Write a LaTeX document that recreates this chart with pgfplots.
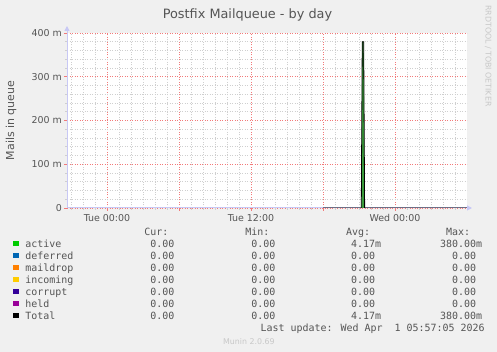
\documentclass[border=0pt]{standalone}
\usepackage{pgfplots}
\pgfplotsset{compat=1.18}
\usepackage{fontspec}
\setmainfont{DejaVu Sans}
\newfontfamily\mono{DejaVu Sans Mono}
\usetikzlibrary{arrows.meta}
\definecolor{bgcol}{HTML}{F0F0F0}
\definecolor{txt}{HTML}{555555}
\definecolor{faint}{HTML}{C8C8C8}
\definecolor{gridc}{HTML}{CFCFCF}
\definecolor{mgridc}{HTML}{F27A7A}
\definecolor{axcol}{HTML}{C8C8F5}
\definecolor{basecol}{HTML}{6E6E86}
\definecolor{cA}{HTML}{00CC00}
\definecolor{cB}{HTML}{0066B3}
\definecolor{cC}{HTML}{FF8000}
\definecolor{cD}{HTML}{FFCC00}
\definecolor{cE}{HTML}{330099}
\definecolor{cF}{HTML}{990099}
\definecolor{cG}{HTML}{000000}
\definecolor{spikefill}{HTML}{3A9A3A}
\begin{document}
\begin{tikzpicture}
\fill[bgcol] (0bp,0bp) rectangle (497bp,352bp);
\begin{axis}[
  at={(67bp,144bp)}, anchor=south west,
  scale only axis, width=400bp, height=175bp,
  xmin=-3.3333, xmax=30, ymin=0, ymax=0.4,
  axis background/.style={fill=white},
  axis line style={draw=none},
  clip=false,
  xtick={0,6,12,18,24},
  xticklabels={Tue 00:00,,Tue 12:00,,Wed 00:00},
  minor xtick={-3,-2,-1,1,2,3,4,5,7,8,9,10,11,13,14,15,16,17,19,20,21,22,23,25,26,27,28,29},
  ytick={0,0.1,0.2,0.3,0.4},
  yticklabels={0,100 m,200 m,300 m,400 m},
  minor ytick={0.02,0.04,0.06,0.08,0.12,0.14,0.16,0.18,0.22,0.24,0.26,0.28,0.32,0.34,0.36,0.38},
  xmajorgrids, ymajorgrids, xminorgrids, yminorgrids,
  xtick pos=bottom, ytick pos=left,
  tick align=outside, major tick length=3bp, minor tick length=2bp,
  major tick style={draw=mgridc, line width=0.7bp},
  minor tick style={draw=gridc, line width=0.7bp},
  major grid style={draw=mgridc, dash pattern=on 1bp off 1.5bp, line width=0.9bp},
  minor grid style={draw=gridc, dash pattern=on 1bp off 1.5bp, line width=0.8bp},
  ticklabel style={font=\fontsize{9.5}{10}\selectfont, text=txt},
  xticklabel style={inner sep=0pt, yshift=-3bp},
  yticklabel style={inner sep=0pt, xshift=-2bp},
]
\draw[axcol, line width=1bp, -{Triangle[length=5bp,width=5bp]}] (rel axis cs:0,0) -- ++(0bp,182bp);
\draw[axcol, line width=1bp, -{Triangle[length=5bp,width=5bp]}] (rel axis cs:0,0) -- ++(405bp,0bp);
\addplot[draw=basecol, line width=1bp] coordinates {(18,0) (30,0)};
\addplot[draw=none, fill=spikefill] coordinates {(21.19,0) (21.27,0.38) (21.39,0.38) (21.47,0)} \closedcycle;
\addplot[draw=black, line width=0.8bp] coordinates {(21.19,0) (21.27,0.38) (21.39,0.38) (21.47,0)};
\end{axis}
% title
\node[anchor=base, inner sep=0pt, text=txt, font=\fontsize{12.9}{14}\selectfont] at (247.5bp,333bp) {Postfix Mailqueue - by day};
% y label
\node[rotate=90, inner sep=0pt, text=txt, font=\fontsize{11}{12}\selectfont] at (11bp,231.5bp) {Mails in queue};
% watermark
\node[rotate=-90, anchor=base west, inner sep=0pt, text=faint, font=\fontsize{7.9}{9}\selectfont] at (485.5bp,347bp) {RRDTOOL / TOBI OETIKER};
\node[anchor=base, inner sep=0pt, text=faint, font=\fontsize{7.9}{9}\selectfont] at (248.8bp,8bp) {Munin 2.0.69};
% legend
\begin{scope}[every node/.style={anchor=base west, inner sep=0pt, text=txt, font=\mono\fontsize{10}{11}\selectfont}]
\node at (144.2bp,116.3bp) {Cur:};
\node at (245.2bp,116.3bp) {Min:};
\node at (345.9bp,116.3bp) {Avg:};
\node at (445.9bp,116.3bp) {Max:};
\foreach \name/\col/\avg [count=\i from 0] in {active/cA/4.17m, deferred/cB/0.00, maildrop/cC/0.00, incoming/cD/0.00, corrupt/cE/0.00, held/cF/0.00, Total/cG/4.17m}{
  \pgfmathsetmacro\yb{352-247.7-12*\i}
  \fill[\col] (13.3bp,\yb bp+1.7bp) rectangle ++(5.2bp,5.2bp);
  \node at (25.2bp,\yb bp) {\name};
  \node at (150.2bp,\yb bp) {0.00};
  \node at (251.2bp,\yb bp) {0.00};
  \node at (350.9bp,\yb bp) {\avg};
}
\node at (439.9bp,104.3bp) {380.00m};
\node at (439.9bp,32.3bp) {380.00m};
\foreach \i in {1,...,5}{
  \pgfmathsetmacro\yb{352-247.7-12*\i}
  \node at (451.9bp,\yb bp) {0.00};
}
\node at (260.5bp,20.3bp) {Last update: Wed Apr\ \ 1 05:57:05 2026};
\end{scope}
\end{tikzpicture}
\end{document}
